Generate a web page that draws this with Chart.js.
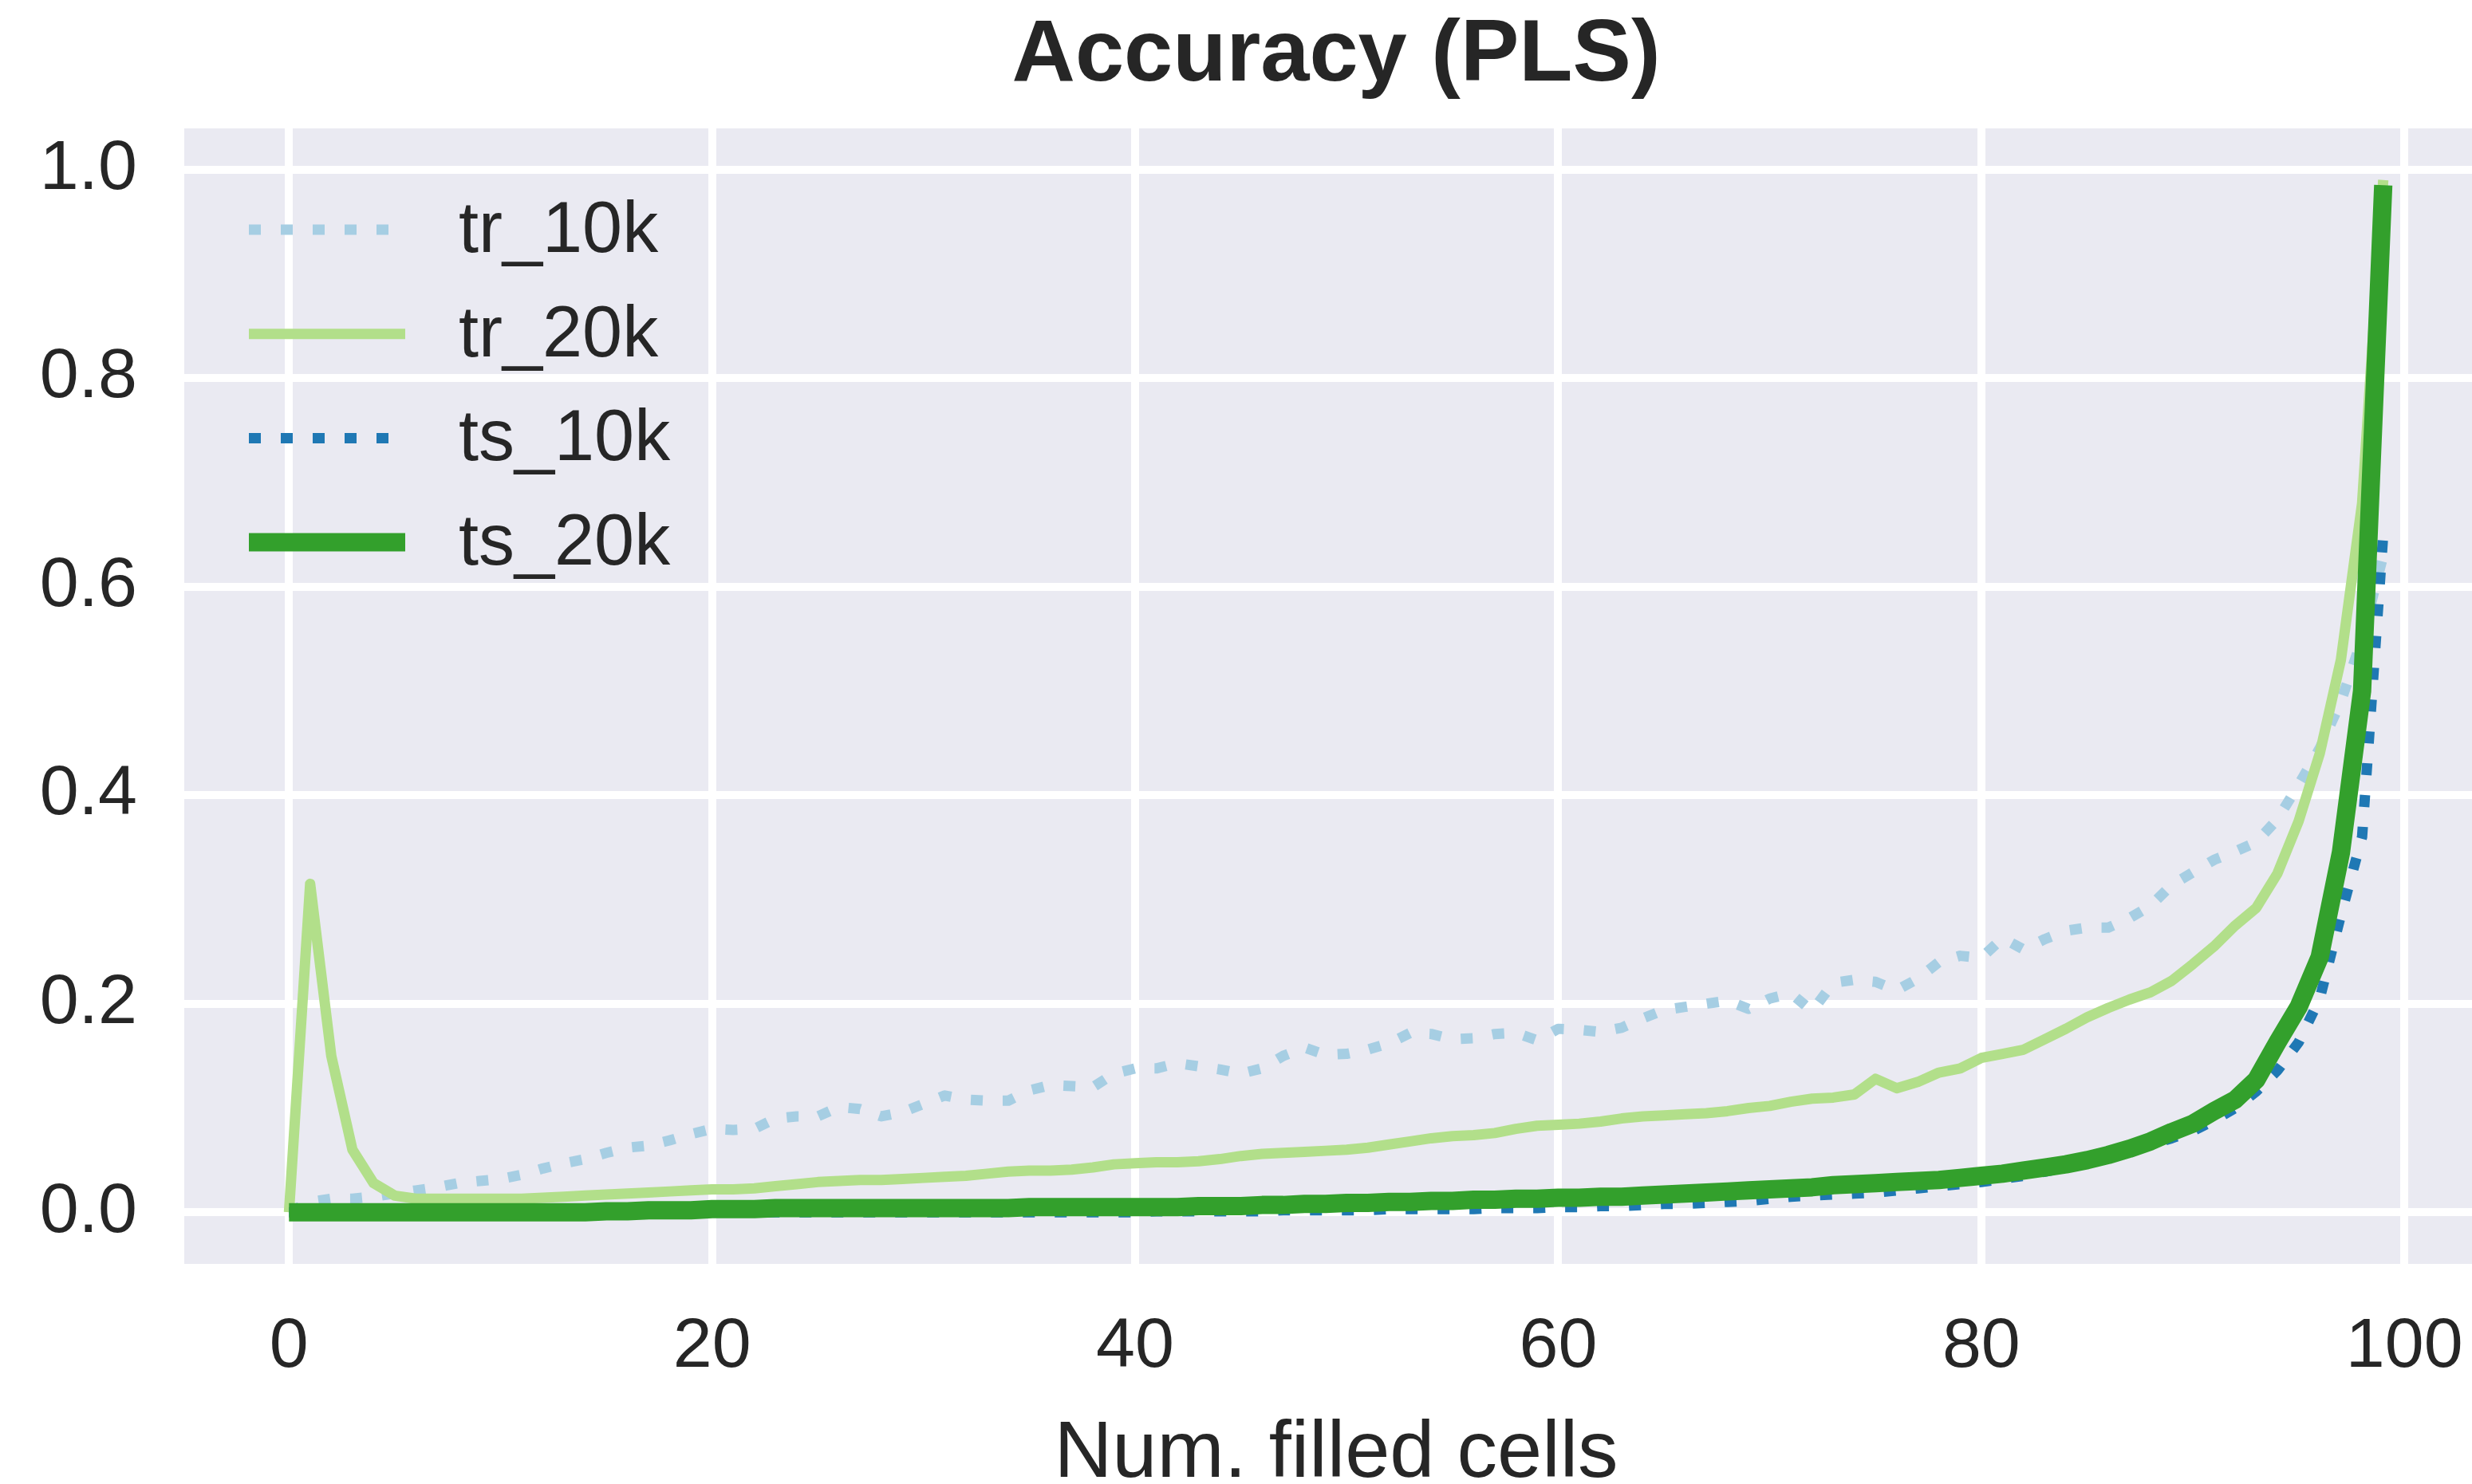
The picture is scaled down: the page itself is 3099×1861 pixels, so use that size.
<!DOCTYPE html>
<html>
<head>
<meta charset="utf-8">
<script src="https://cdn.jsdelivr.net/npm/chart.js@4.4.1/dist/chart.umd.min.js"></script>
<style>
  html, body { margin: 0; padding: 0; background: #ffffff; overflow: hidden; }
  canvas { display: block; }
</style>
</head>
<body>
<canvas id="c" width="3125" height="1861"></canvas>
<script>
// ---- data ----
const cells = [0,1,2,3,4,5,6,7,8,9,10,11,12,13,14,15,16,17,18,19,20,21,22,23,24,25,26,27,28,29,30,31,32,33,34,35,36,37,38,39,40,41,42,43,44,45,46,47,48,49,50,51,52,53,54,55,56,57,58,59,60,61,62,63,64,65,66,67,68,69,70,71,72,73,74,75,76,77,78,79,80,81,82,83,84,85,86,87,88,89,90,91,92,93,94,95,96,97,98,99];

const tr_10k = [0.000,0.010,0.013,0.013,0.015,0.018,0.021,0.024,0.028,0.030,
  0.032,0.036,0.042,0.047,0.051,0.057,0.062,0.064,0.069,0.075,
  0.080,0.079,0.080,0.090,0.092,0.092,0.101,0.099,0.092,0.096,
  0.104,0.112,0.108,0.107,0.107,0.117,0.122,0.121,0.120,0.133,
  0.138,0.138,0.143,0.140,0.137,0.133,0.138,0.150,0.158,0.151,
  0.152,0.156,0.162,0.172,0.171,0.166,0.167,0.171,0.172,0.165,
  0.176,0.175,0.173,0.177,0.186,0.194,0.197,0.200,0.203,0.195,
  0.205,0.210,0.193,0.220,0.223,0.221,0.213,0.224,0.240,0.246,
  0.244,0.263,0.252,0.262,0.270,0.273,0.273,0.282,0.294,0.314,
  0.326,0.338,0.346,0.355,0.377,0.410,0.445,0.490,0.550,0.630];

const tr_20k = [0.000,0.315,0.150,0.060,0.028,0.016,0.013,0.013,0.013,0.013,
  0.013,0.013,0.014,0.015,0.016,0.017,0.018,0.019,0.020,0.021,
  0.022,0.022,0.023,0.025,0.027,0.029,0.030,0.031,0.031,0.032,
  0.033,0.034,0.035,0.037,0.039,0.040,0.040,0.041,0.043,0.046,
  0.047,0.048,0.048,0.049,0.051,0.054,0.056,0.057,0.058,0.059,
  0.060,0.062,0.065,0.068,0.071,0.073,0.074,0.076,0.080,0.083,
  0.084,0.085,0.087,0.090,0.092,0.093,0.094,0.095,0.097,0.100,
  0.102,0.106,0.109,0.110,0.113,0.128,0.119,0.125,0.134,0.138,
  0.148,0.152,0.156,0.166,0.176,0.187,0.196,0.204,0.211,0.222,
  0.238,0.255,0.275,0.292,0.325,0.375,0.440,0.530,0.680,0.990];

const ts_10k = [0.000,0.000,0.000,0.000,0.000,0.000,0.000,0.000,0.000,0.000,
  0.000,0.000,0.000,0.000,0.000,0.000,0.000,0.000,0.000,0.000,
  0.000,0.000,0.000,0.000,0.000,0.000,0.000,0.000,0.000,0.000,
  0.000,0.000,0.000,0.000,0.000,0.000,0.000,0.000,0.000,0.000,
  0.000,0.001,0.001,0.001,0.001,0.001,0.001,0.002,0.002,0.002,
  0.002,0.002,0.003,0.003,0.003,0.003,0.003,0.004,0.004,0.004,
  0.005,0.005,0.006,0.006,0.007,0.008,0.008,0.009,0.010,0.011,
  0.013,0.015,0.016,0.017,0.018,0.019,0.021,0.023,0.025,0.027,
  0.029,0.032,0.035,0.039,0.043,0.048,0.054,0.059,0.065,0.071,
  0.078,0.088,0.100,0.116,0.136,0.163,0.205,0.285,0.360,0.650];

const ts_20k = [0.000,0.000,0.000,0.000,0.000,0.000,0.000,0.000,0.000,0.000,
  0.000,0.000,0.000,0.000,0.000,0.001,0.001,0.002,0.002,0.002,
  0.003,0.003,0.003,0.004,0.004,0.004,0.004,0.004,0.004,0.004,
  0.004,0.004,0.004,0.004,0.004,0.005,0.005,0.005,0.005,0.005,
  0.005,0.005,0.005,0.006,0.006,0.006,0.007,0.007,0.008,0.008,
  0.009,0.009,0.010,0.010,0.011,0.011,0.012,0.012,0.013,0.013,
  0.014,0.014,0.015,0.015,0.016,0.017,0.018,0.019,0.020,0.021,
  0.022,0.023,0.024,0.026,0.027,0.028,0.029,0.030,0.031,0.033,
  0.035,0.037,0.040,0.043,0.046,0.050,0.055,0.061,0.068,0.077,
  0.085,0.097,0.108,0.127,0.163,0.197,0.245,0.345,0.500,0.985];

const seriesNames = ['tr_10k', 'tr_20k', 'ts_10k', 'ts_20k'];
const xTicks = [0, 20, 40, 60, 80, 100];
const yTicks = [0.0, 0.2, 0.4, 0.6, 0.8, 1.0];

// ---- chart ----
const FONT = '"Liberation Sans", Arial, sans-serif';
const TEXT = '#262626';

function pts(vals) { return cells.map((c, i) => ({x: c, y: vals[i]})); }

const bgPlugin = {
  id: 'axesBg',
  beforeDraw(chart) {
    const {ctx, chartArea: a} = chart;
    ctx.save();
    ctx.fillStyle = '#ffffff';
    ctx.fillRect(0, 0, chart.width, chart.height);
    ctx.fillStyle = '#EAEAF2';
    ctx.fillRect(a.left, a.top, a.right - a.left, a.bottom - a.top);
    ctx.restore();
  }
};

const legendPlugin = {
  id: 'innerLegend',
  afterDatasetsDraw(chart) {
    const {ctx, chartArea: a} = chart;
    const x0 = a.left + 81, len = 196, tx = a.left + 344;
    const y0 = a.top + 127, dy = 130.7;
    ctx.save();
    chart.data.datasets.forEach((ds, i) => {
      const y = y0 + i * dy;
      ctx.beginPath();
      ctx.strokeStyle = ds.borderColor;
      ctx.lineWidth = ds.borderWidth;
      ctx.setLineDash(ds.borderDash || []);
      ctx.lineCap = 'butt';
      ctx.moveTo(x0, y);
      ctx.lineTo(x0 + len, y);
      ctx.stroke();
      ctx.setLineDash([]);
      ctx.fillStyle = TEXT;
      ctx.font = '90px ' + FONT;
      ctx.textBaseline = 'middle';
      ctx.textAlign = 'left';
      ctx.fillText(ds.label, tx, y + 3);
    });
    ctx.restore();
  }
};

const dotted = [15, 25];

new Chart(document.getElementById('c'), {
  type: 'line',
  data: {
    datasets: [
      {label: seriesNames[0], data: pts(tr_10k), borderColor: '#a6cee3', borderWidth: 13, borderDash: dotted, order: 3},
      {label: seriesNames[1], data: pts(tr_20k), borderColor: '#b2df8a', borderWidth: 13, order: 2},
      {label: seriesNames[2], data: pts(ts_10k), borderColor: '#1f78b4', borderWidth: 13, borderDash: dotted, order: 1},
      {label: seriesNames[3], data: pts(ts_20k), borderColor: '#33a02c', borderWidth: 23, order: 0}
    ]
  },
  options: {
    responsive: false,
    animation: false,
    devicePixelRatio: 1,
    events: [],
    elements: {
      point: {radius: 0},
      line: {tension: 0, fill: false, borderJoinStyle: 'round', borderCapStyle: 'butt'}
    },
    layout: {padding: {left: 0, right: 6, top: 0, bottom: 0}},
    plugins: {
      legend: {display: false},
      tooltip: {enabled: false},
      title: {
        display: true,
        text: 'Accuracy (PLS)',
        fullSize: false,
        color: TEXT,
        font: {family: FONT, size: 110, weight: 'bold', lineHeight: 1.0},
        padding: {top: 16, bottom: 35}
      }
    },
    scales: {
      x: {
        type: 'linear',
        min: -4.95,
        max: 103.95,
        afterBuildTicks: (s) => { s.ticks = xTicks.map(v => ({value: v})); },
        ticks: {
          color: TEXT,
          font: {family: FONT, size: 88},
          padding: 52,
          maxRotation: 0,
          autoSkip: false,
          callback: (v) => String(v)
        },
        grid: {color: '#ffffff', lineWidth: 10, drawTicks: false},
        border: {display: false},
        title: {
          display: true,
          text: 'Num. filled cells',
          color: TEXT,
          font: {family: FONT, size: 101, lineHeight: 0.7},
          padding: {top: 0, bottom: 1}
        },
        afterFit: (s) => { s.height = 276; s.paddingLeft = 0; s.paddingRight = 0; }
      },
      y: {
        type: 'linear',
        min: -0.0495,
        max: 1.0395,
        afterBuildTicks: (s) => { s.ticks = yTicks.map(v => ({value: v})); },
        ticks: {
          color: TEXT,
          font: {family: FONT, size: 88},
          padding: 59,
          autoSkip: false,
          callback: (v) => Number(v).toFixed(1)
        },
        grid: {color: '#ffffff', lineWidth: 10, drawTicks: false},
        border: {display: false},
        afterFit: (s) => { s.width = 231; s.paddingTop = 0; s.paddingBottom = 0; }
      }
    }
  },
  plugins: [bgPlugin, legendPlugin]
});
</script>
</body>
</html>
